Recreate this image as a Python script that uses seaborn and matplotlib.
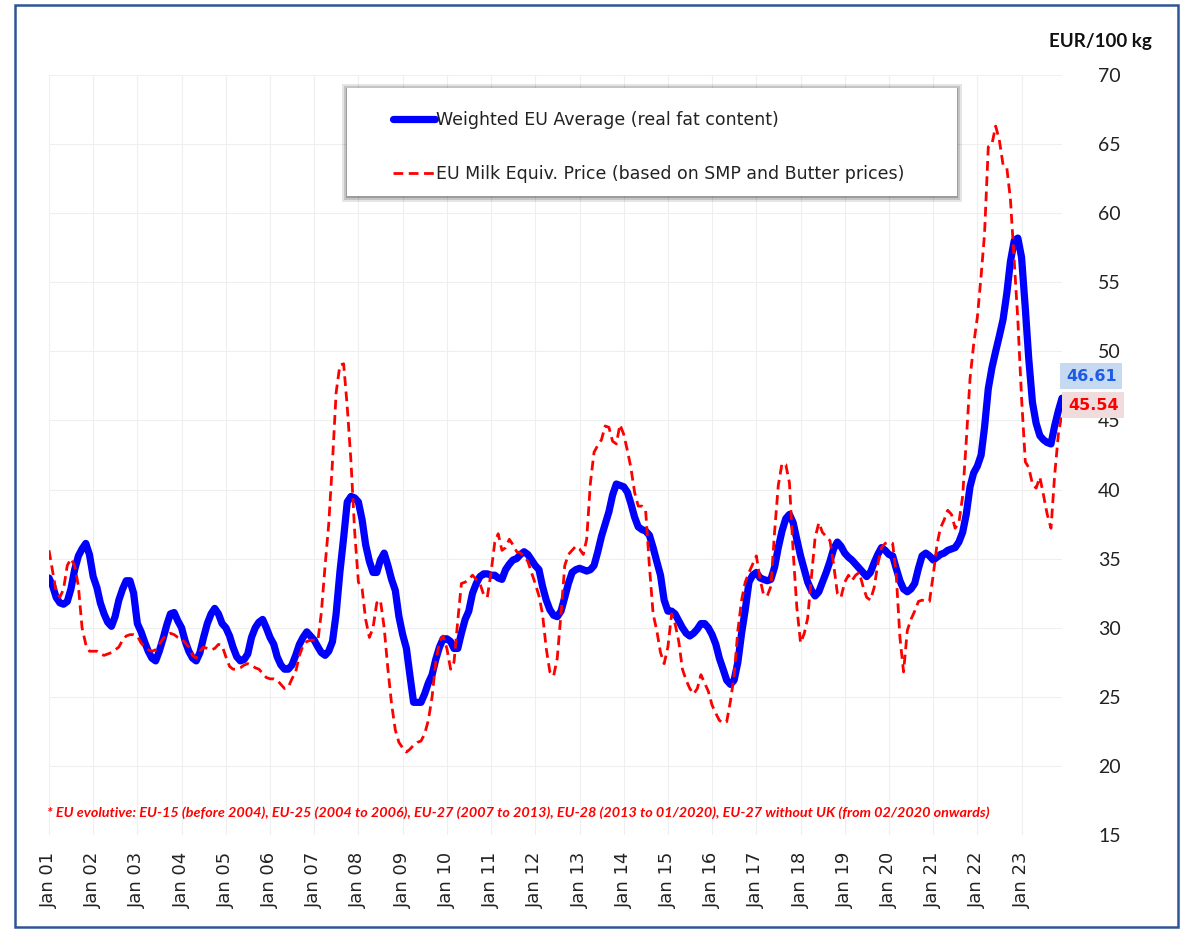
import matplotlib
matplotlib.use("Agg")
import pandas as pd
import seaborn as sns
from matplotlib import pyplot as plt
from matplotlib import patches
import matplotlib.dates as mdates

sns.set_theme(style="white")
plt.rcParams["font.family"] = ["DejaVu Sans"]

BLUE = "#0000FF"
RED = "#FF0000"
FRAME_BLUE = "#2F5597"

months = pd.date_range("2001-01-01", "2023-12-01", freq="MS")

# Weighted EU Average (real fat content), EUR/100 kg, Jan 2001 - Dec 2023
weighted_avg = [
    33.6, 33.0, 32.2, 31.8, 31.7, 31.9, 32.8, 34.2, 35.2, 35.7, 36.1, 35.3,
    33.7, 32.9, 31.8, 31.0, 30.4, 30.1, 30.8, 32.0, 32.8, 33.4, 33.4, 32.5,
    30.3, 29.7, 29.0, 28.3, 27.8, 27.6, 28.3, 29.2, 30.2, 31.0, 31.1, 30.5,
    30.0, 29.0, 28.3, 27.8, 27.6, 28.2, 29.3, 30.3, 31.0, 31.4, 31.0, 30.3,
    30.0, 29.4, 28.6, 27.9, 27.6, 27.7, 28.1, 29.3, 30.0, 30.4, 30.6, 30.0,
    29.3, 28.8, 27.9, 27.3, 27.0, 27.0, 27.3, 28.0, 28.8, 29.3, 29.7, 29.4,
    29.1, 28.6, 28.2, 28.0, 28.3, 29.0, 31.0, 34.0, 36.5, 39.1, 39.5, 39.4,
    39.1, 37.8, 36.0, 34.8, 34.0, 34.0, 34.9, 35.4, 34.5, 33.5, 32.7, 30.8,
    29.5, 28.5, 26.6, 24.6, 24.6, 24.6, 25.2, 26.0, 26.6, 27.7, 28.6, 29.2,
    29.2, 29.0, 28.5, 28.5, 29.6, 30.6, 31.2, 32.5, 33.2, 33.7, 33.9, 33.9,
    33.8, 33.8, 33.6, 33.5, 34.2, 34.6, 34.9, 35.0, 35.3, 35.5, 35.3, 34.9,
    34.5, 34.2, 33.0, 32.0, 31.3, 30.9, 30.8, 31.2, 32.2, 33.2, 34.0, 34.2,
    34.3, 34.2, 34.1, 34.2, 34.5, 35.5, 36.6, 37.5, 38.4, 39.6, 40.4, 40.3,
    40.2, 39.8, 39.0, 38.0, 37.3, 37.1, 37.0, 36.7, 35.8, 34.8, 33.8, 32.0,
    31.2, 31.2, 31.0, 30.5, 30.0, 29.6, 29.4, 29.6, 29.9, 30.3, 30.3, 30.0,
    29.5, 28.8, 27.8, 27.0, 26.2, 25.9, 26.2, 27.5, 29.6, 31.3, 33.3, 33.8,
    34.0, 33.6, 33.5, 33.4, 33.5, 34.4, 35.8, 37.0, 37.9, 38.2, 37.6, 36.4,
    35.2, 34.2, 33.3, 32.7, 32.3, 32.6, 33.3, 34.0, 34.8, 35.7, 36.2, 35.9,
    35.4, 35.1, 34.9, 34.6, 34.3, 34.0, 33.7, 34.0, 34.7, 35.3, 35.8, 35.6,
    35.3, 35.2, 34.3, 33.4, 32.8, 32.6, 32.8, 33.2, 34.3, 35.2, 35.4, 35.2,
    34.9, 35.1, 35.3, 35.4, 35.6, 35.7, 35.8, 36.2, 36.9, 38.2, 40.2, 41.2,
    41.7, 42.5, 44.5, 47.3, 48.8, 50.0, 51.1, 52.3, 54.2, 56.5, 58.0, 58.2,
    56.8, 53.1, 49.5, 46.3, 44.8, 43.9, 43.6, 43.4, 43.3, 44.6, 45.7, 46.61,
]

# EU Milk Equiv. Price (based on SMP and Butter prices), EUR/100 kg
milk_equiv = [
    35.6, 34.0, 32.6, 32.2, 32.8, 34.5, 35.0, 34.5, 33.0, 30.0, 28.8, 28.3,
    28.3, 28.3, 28.1, 28.0, 28.1, 28.2, 28.4, 28.6, 29.1, 29.4, 29.5, 29.5,
    29.4, 28.9, 28.6, 28.4, 28.3, 28.4, 28.8, 29.2, 29.5, 29.6, 29.5, 29.3,
    29.2, 28.9, 28.6, 28.0, 27.8, 28.3, 28.6, 28.5, 28.4, 28.5, 28.8, 28.7,
    27.9, 27.2, 27.0, 27.0, 27.1, 27.3, 27.4, 27.3, 27.1, 27.0, 26.7, 26.4,
    26.3, 26.3, 26.2, 25.9, 25.6, 25.7, 26.3, 26.8, 28.0, 28.7, 29.0, 29.1,
    29.1, 29.1, 31.1, 34.5, 37.5, 42.0, 47.0, 49.0, 49.1, 46.0, 42.0, 37.0,
    33.3, 32.8, 30.6, 29.3, 30.0, 31.8, 32.0, 30.0, 27.0, 24.5, 22.6, 21.7,
    21.3, 21.0, 21.2, 21.5, 21.7, 21.8, 22.3, 23.3, 25.0, 27.5, 29.0, 29.4,
    28.5, 27.0, 27.5, 30.5, 33.2, 33.3, 33.5, 33.8, 33.5, 33.2, 32.4, 32.2,
    34.0, 36.2, 36.8, 35.6, 35.8, 36.4, 36.0, 35.5, 35.4, 35.2, 34.8, 34.0,
    33.2, 32.3, 31.0, 28.5, 26.8, 26.5, 27.8, 31.0, 34.5, 35.3, 35.6, 35.9,
    35.7, 35.3, 36.4, 40.5, 42.7, 43.2, 43.6, 44.6, 44.5, 43.5, 43.3, 44.7,
    44.0, 42.8, 41.6, 39.8, 38.8, 38.8, 38.5, 34.5, 31.0, 29.8, 28.2, 27.4,
    28.6, 31.0, 30.3, 29.0, 27.0, 26.2, 25.6, 25.2, 25.6, 26.6, 26.0, 25.4,
    24.4, 23.8, 23.3, 23.1, 23.2, 24.7, 26.5, 29.8, 32.0, 33.3, 34.0, 34.6,
    35.2, 33.5, 32.4, 32.3, 33.0, 37.0, 40.3, 41.9, 41.8, 40.5, 35.5, 31.5,
    28.9, 29.6, 30.7, 33.7, 36.5, 37.6, 36.9, 36.6, 36.3, 34.6, 32.5, 32.2,
    33.3, 33.8, 33.4, 33.8, 34.0, 33.0, 32.2, 32.0, 32.9, 34.6, 35.8, 36.1,
    36.2, 36.1, 33.9, 29.3, 26.8, 29.8, 30.6, 31.2, 31.9, 32.0, 31.9, 31.9,
    33.8, 36.0, 37.2, 37.8, 38.5, 38.2, 37.2, 37.6, 39.5, 43.5, 48.0, 50.5,
    52.5, 55.5, 58.5, 64.8, 65.0, 66.3, 65.3, 63.5, 63.3, 61.0, 56.6, 52.3,
    46.6, 42.0, 41.6, 40.4, 40.1, 40.9, 39.6, 38.2, 37.2, 41.0, 44.0, 45.54,
]

y_ticks = list(range(15, 75, 5))
series_labels = [
    "Weighted EU Average (real fat content)",
    "EU Milk Equiv. Price (based on SMP and Butter prices)",
]
footnote = ("* EU evolutive: EU-15 (before 2004), EU-25 (2004 to 2006), EU-27 (2007 to 2013), "
            "EU-28 (2013 to 01/2020), EU-27 without UK (from 02/2020 onwards)")

df = pd.DataFrame({"month": months, "weighted": weighted_avg, "milk": milk_equiv})

W, H = 1191, 930
fig = plt.figure(figsize=(W / 100, H / 100), dpi=100)
ax = fig.add_axes([49 / W, 1 - 835 / H, (1062 - 49) / W, (835 - 75) / H])

sns.lineplot(data=df, x="month", y="weighted", ax=ax, color=BLUE, lw=5.2,
             solid_joinstyle="round", solid_capstyle="round", label=series_labels[0])
sns.lineplot(data=df, x="month", y="milk", ax=ax, color=RED, lw=2.0,
             linestyle=(0, (3.5, 2.0)), label=series_labels[1])

ax.set_xlim(months[0], months[-1])
ax.set_ylim(15, 70)
ax.set_xlabel("")
ax.set_ylabel("")
for s in ax.spines.values():
    s.set_visible(False)
ax.grid(True, color="#EFEFEF", lw=0.8)

ax.yaxis.tick_right()
ax.set_yticks(y_ticks)
ax.tick_params(axis="y", length=0, pad=26, labelsize=14, labelcolor="#222222",
               labelfontfamily="Lato")
ax.xaxis.set_major_locator(mdates.YearLocator(1, month=1, day=1))
ax.xaxis.set_major_formatter(mdates.DateFormatter("Jan %y"))
ax.tick_params(axis="x", length=0, pad=12, labelsize=13, labelrotation=90,
               labelcolor="#222222")

fig.text(1152 / W, 1 - 42 / H, "EUR/100 kg", ha="right", va="center",
         fontsize=13.5, fontweight="bold", family="Lato", color="#111111")

# legend box with soft shadow (in axes so the legend draws on top)
lx0, ly0, lx1, ly1 = 347, 88, 957, 196
for i, a in enumerate([0.10, 0.14, 0.20]):
    g = 5 - i * 2
    ax.add_patch(patches.Rectangle(
        ((lx0 - g) / W, 1 - (ly1 + g + 1) / H), (lx1 - lx0 + 2 * g) / W, (ly1 - ly0 + 2 * g) / H,
        transform=fig.transFigure, fc="#000000", ec="none", alpha=a, zorder=3, clip_on=False))
ax.add_patch(patches.Rectangle(
    (lx0 / W, 1 - ly1 / H), (lx1 - lx0) / W, (ly1 - ly0) / H,
    transform=fig.transFigure, fc="white", ec="none", zorder=4, clip_on=False))

leg = ax.legend(loc="upper left", bbox_to_anchor=(393 / W, 1 - 111 / H),
                bbox_transform=fig.transFigure, frameon=False, borderpad=0,
                borderaxespad=0, handlelength=2.4, handletextpad=0.05,
                labelspacing=2.1, fontsize=12.5)
leg.set_zorder(5)
for t in leg.get_texts():
    t.set_color("#222222")

# last values at right edge
ax.text(1.004, 48.2, f"{weighted_avg[-1]:.2f}", transform=ax.get_yaxis_transform(),
        ha="left", va="center", fontsize=11.5, fontweight="bold", color="#1F5AE6",
        bbox=dict(boxstyle="square,pad=0.35", fc="#C5D9F1", ec="none"))
ax.text(1.006, 46.1, f"{milk_equiv[-1]:.2f}", transform=ax.get_yaxis_transform(),
        ha="left", va="center", fontsize=11.5, fontweight="bold", color=RED,
        bbox=dict(boxstyle="square,pad=0.35", fc="#F0DCDC", ec="none"))

ax.text(-0.002, 16.6, footnote, transform=ax.get_yaxis_transform(), ha="left", va="center",
        fontsize=10.4, fontweight="bold", fontstyle="italic", family="Lato", color=RED)

# outer frame
fig.patches.append(patches.Rectangle((15 / W, 1 - 927 / H), (1178 - 15) / W, (927 - 5) / H,
                                     transform=fig.transFigure, fill=False,
                                     ec=FRAME_BLUE, lw=1.8))

fig.savefig("out.png", dpi=100)
